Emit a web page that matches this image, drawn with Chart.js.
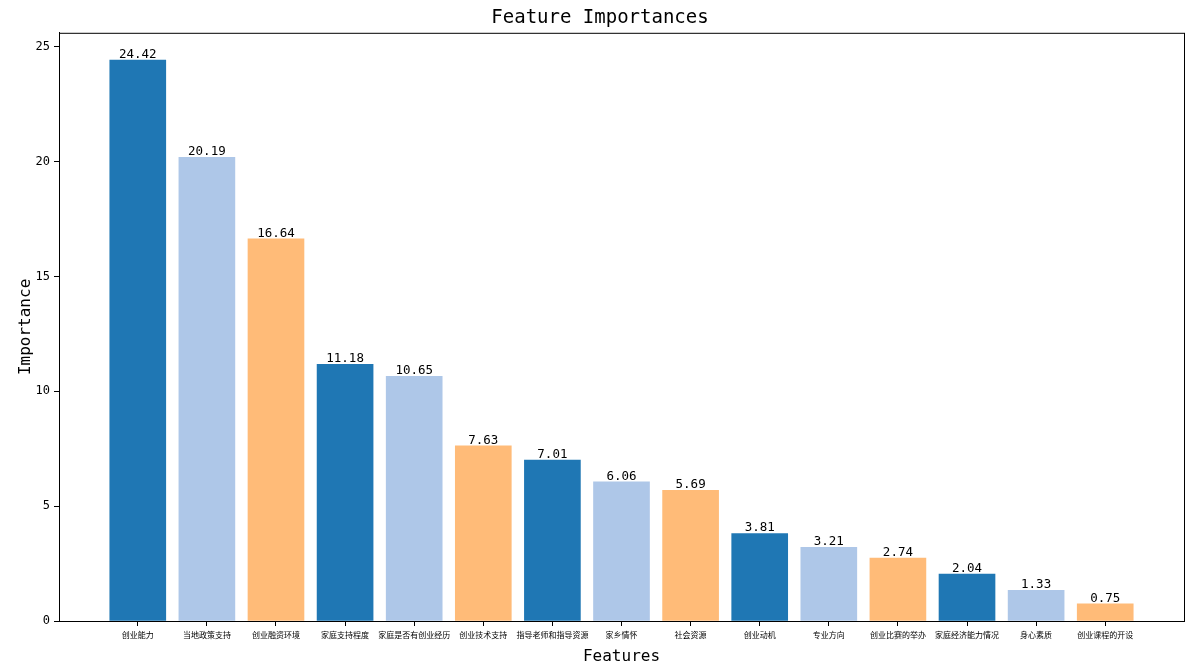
<!DOCTYPE html>
<html>
<head>
<meta charset="utf-8">
<script src="https://cdn.jsdelivr.net/npm/chart.js@4.4.0/dist/chart.umd.min.js"></script>
<style>
  html, body { margin: 0; padding: 0; background: #fff; }
  #wrap { width: 1200px; height: 666px; }
</style>
</head>
<body>
<div id="wrap"><canvas id="featChart"></canvas></div>
<script>
const features = ['创业能力', '当地政策支持', '创业融资环境', '家庭支持程度', '家庭是否有创业经历', '创业技术支持',
    '指导老师和指导资源', '家乡情怀', '社会资源', '创业动机', '专业方向', '创业比赛的举办', '家庭经济能力情况',
    '身心素质', '创业课程的开设'];
const importances = [24.42, 20.19, 16.64, 11.18, 10.65, 7.63, 7.01, 6.06, 5.69, 3.81, 3.21, 2.74, 2.04, 1.33, 0.75];
const palette = ['#1f77b4', '#aec7e8', '#ffbb78'];
const yTicks = [0, 5, 10, 15, 20, 25];

const FONT = "'DejaVu Sans Mono', 'Noto Sans CJK SC', monospace";
const CJK = "'Noto Sans CJK SC', sans-serif";

const valueLabels = {
    id: 'valueLabels',
    afterDatasetsDraw(chart) {
        const { ctx, scales: { x, y } } = chart;
        ctx.save();
        ctx.font = '12.5px ' + FONT;
        ctx.fillStyle = '#000';
        ctx.textAlign = 'center';
        ctx.textBaseline = 'alphabetic';
        importances.forEach((v, i) => {
            ctx.fillText(v.toFixed(2), x.getPixelForValue(i), y.getPixelForValue(v) - 2);
        });
        ctx.restore();
    }
};

const frame = {
    id: 'frame',
    afterDraw(chart) {
        const { ctx, chartArea: { left, top, right, bottom } } = chart;
        ctx.save();
        ctx.strokeStyle = '#000';
        ctx.lineWidth = 1;
        ctx.strokeRect(left + 0.5, top + 0.5, right - left, bottom - top);
        ctx.restore();
    }
};

const ctx = document.getElementById('featChart');
new Chart(ctx, {
    type: 'bar',
    data: {
        datasets: [{
            data: importances.map((v, i) => ({ x: i, y: v })),
            backgroundColor: importances.map((v, i) => palette[i % 3]),
            barThickness: 56,
            borderWidth: 0,
        }]
    },
    options: {
        responsive: true,
        maintainAspectRatio: false,
        animation: false,
        layout: { padding: { left: 16, right: 16, top: 0, bottom: 0 } },
        scales: {
            x: {
                type: 'linear',
                offset: false,
                min: -1.14,
                max: 15.14,
                afterBuildTicks: (scale) => {
                    scale.ticks = features.map((f, i) => ({ value: i }));
                },
                afterFit: (scale) => { scale.height = 45; },
                border: { display: true, color: '#000' },
                grid: { offset: false, drawOnChartArea: false, drawTicks: true, tickLength: 5, color: '#000' },
                ticks: {
                    autoSkip: false,
                    maxRotation: 0,
                    padding: 4,
                    color: '#000',
                    font: { size: 8, family: CJK },
                    callback: (value) => features[value],
                },
                title: {
                    display: true,
                    text: 'Features',
                    color: '#000',
                    font: { size: 16, family: FONT },
                    padding: { top: 1, bottom: 0 },
                }
            },
            y: {
                min: 0,
                max: 25.61,
                afterBuildTicks: (scale) => {
                    scale.ticks = yTicks.map(v => ({ value: v }));
                },
                afterFit: (scale) => { scale.width = 43; },
                border: { display: true, color: '#000' },
                grid: { drawOnChartArea: false, drawTicks: true, tickLength: 5, color: '#000' },
                ticks: {
                    color: '#000',
                    padding: 4,
                    font: { size: 12, family: FONT },
                },
                title: {
                    display: true,
                    text: 'Importance',
                    color: '#000',
                    font: { size: 16, family: FONT },
                    padding: { top: 0, bottom: 0 },
                }
            }
        },
        plugins: {
            legend: { display: false },
            tooltip: { enabled: false },
            title: {
                display: true,
                text: 'Feature Importances',
                color: '#000',
                font: { size: 19, family: FONT, weight: 'normal' },
                padding: { top: 7, bottom: 3 },
            }
        }
    },
    plugins: [valueLabels, frame]
});
</script>
</body>
</html>
